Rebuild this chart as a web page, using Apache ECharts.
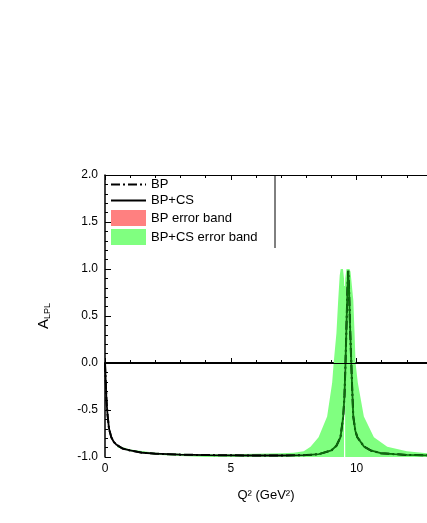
<!DOCTYPE html>
<html>
<head>
<meta charset="utf-8">
<script src="https://cdn.jsdelivr.net/npm/echarts@6/dist/echarts.min.js"></script>
<style>
  html, body { margin: 0; padding: 0; background: #fff; }
  #chart { width: 427px; height: 523px; }
</style>
</head>
<body>
<div id="chart"></div>
<script>
// BP+CS curve (solid) and BP curve (dash-dot)
const curveQ = [0, 0.03, 0.06, 0.1, 0.16, 0.25, 0.35, 0.46, 0.7, 1.0, 1.5, 2.0, 3.0, 4.0, 5.0, 6.0, 7.0, 8.0, 8.5, 9.0, 9.2, 9.36, 9.47, 9.52, 9.56, 9.6, 9.64, 9.67, 9.7, 9.74, 9.79, 9.83, 9.87, 9.95, 10.03, 10.3, 10.56, 10.96, 11.5, 12.0, 12.8]
const bpcsA = [0, -0.2, -0.4, -0.55, -0.7, -0.79, -0.84, -0.87, -0.91, -0.93, -0.955, -0.965, -0.975, -0.979, -0.982, -0.984, -0.984, -0.98, -0.97, -0.93, -0.88, -0.79, -0.57, -0.35, 0.0, 0.4, 0.8, 0.98, 0.8, 0.4, 0.0, -0.3, -0.57, -0.72, -0.79, -0.89, -0.93, -0.96, -0.97, -0.978, -0.982]
const bpA = [0, -0.2, -0.4, -0.55, -0.7, -0.79, -0.84, -0.87, -0.91, -0.93, -0.955, -0.965, -0.975, -0.979, -0.982, -0.984, -0.984, -0.98, -0.97, -0.93, -0.88, -0.79, -0.57, -0.35, 0.0, 0.4, 0.8, 0.98, 0.8, 0.4, 0.0, -0.3, -0.57, -0.72, -0.79, -0.89, -0.93, -0.96, -0.97, -0.978, -0.982]

// BP+CS error band
const bandQ = [0.5, 1, 2, 3, 4, 5, 6, 7, 7.5, 7.9, 8.17, 8.49, 8.83, 9.03, 9.09, 9.2, 9.27, 9.33, 9.37, 9.46, 9.5, 9.51, 9.54, 9.55, 9.6, 9.72, 9.76, 9.87, 9.92, 9.96, 10.05, 10.29, 10.69, 11.22, 12.0, 12.8]
const bandHigh = [-0.88, -0.92, -0.955, -0.965, -0.97, -0.97, -0.965, -0.96, -0.955, -0.94, -0.89, -0.79, -0.57, -0.21, 0.0, 0.32, 0.67, 0.93, 1.0, 1.0, 0.9, 0.82, 0.82, 0.9, 1.0, 1.0, 0.97, 0.67, 0.32, 0.0, -0.21, -0.57, -0.79, -0.89, -0.94, -0.96]
const bandLow = [-0.9, -0.94, -0.975, -0.99, -1, -1, -1, -1, -1, -1, -1, -1, -1, -1, -1, -1, -1, -1, -1, -1, -1, -0.05, -0.05, -1, -1, -1, -1, -1, -1, -1, -1, -1, -1, -1, -1, -1]

// BP error band (hidden under the green one)
const bpBandQ = [9.6, 9.64, 9.67, 9.7, 9.74]
const bpBandHigh = [0.45, 0.85, 1.0, 0.85, 0.45]
const bpBandLow = [0.35, 0.75, 0.95, 0.75, 0.35]

const xTicks = { min: 0, max: 12.8, interval: 5 }
const yTicks = { min: -1, max: 2, interval: 0.5 }

const chart = echarts.init(document.getElementById('chart'))

const bandSeries = (name, q, low, high, color) => ({
  name,
  type: 'custom',
  data: q.map((v, i) => [v, low[i], high[i]]),
  encode: { x: 0, y: [1, 2] },
  itemStyle: { color },
  silent: true,
  renderItem: (params, api) => {
    if (params.dataIndex !== 0) return null
    const pts = []
    for (let i = 0; i < q.length; i++) pts.push(api.coord([q[i], high[i]]))
    for (let i = q.length - 1; i >= 0; i--) pts.push(api.coord([q[i], low[i]]))
    return { type: 'polygon', shape: { points: pts }, style: { fill: color } }
  }
})

// black near the origin, dark green where the curve runs over the band
const lineGrad = new echarts.graphic.LinearGradient(0, 0, 1, 0, [
  { offset: 0, color: '#000' },
  { offset: 0.55, color: '#000' },
  { offset: 0.66, color: '#0b6e0b' },
  { offset: 1, color: '#0b6e0b' }
])

const font = 'Liberation Sans, Arial, sans-serif'

const option = {
  animation: false,
  textStyle: { fontFamily: font },
  grid: { left: 105, right: 0, top: 175, bottom: 66 },
  legend: {
    orient: 'vertical',
    left: 110,
    top: 178,
    padding: 0,
    itemWidth: 35,
    itemHeight: 16,
    itemGap: 3,
    textStyle: { color: '#000', fontSize: 13, fontFamily: font },
    data: [
      { name: 'BP', itemStyle: { opacity: 0 }, lineStyle: { color: '#000', width: 2 } },
      { name: 'BP+CS', itemStyle: { opacity: 0 }, lineStyle: { color: '#000', width: 2 } },
      { name: 'BP error band', icon: 'rect' },
      { name: 'BP+CS error band', icon: 'rect' }
    ]
  },
  xAxis: [
    {
      type: 'value',
      ...xTicks,
      name: 'Q² (GeV²)',
      nameLocation: 'middle',
      nameGap: 32,
      nameTextStyle: { color: '#000', fontSize: 13, fontFamily: font },
      axisLine: { lineStyle: { color: '#000', width: 2 } },
      axisTick: { inside: true, length: 5, lineStyle: { color: '#000' } },
      minorTick: { show: true, splitNumber: 5, length: 3, lineStyle: { color: '#000' } },
      axisLabel: { color: '#000', fontSize: 12, margin: 6, showMaxLabel: false },
      splitLine: { show: false }
    },
    {
      type: 'value',
      position: 'top',
      ...xTicks,
      axisLine: { lineStyle: { color: '#000', width: 1 } },
      axisTick: { inside: true, length: 5, lineStyle: { color: '#000' } },
      minorTick: { show: true, splitNumber: 5, length: 3, lineStyle: { color: '#000' } },
      axisLabel: { show: false },
      splitLine: { show: false }
    }
  ],
  yAxis: {
    type: 'value',
    ...yTicks,
    name: '{a|A}{s|LPL}',
    nameLocation: 'middle',
    nameGap: 51,
    nameTextStyle: {
      rich: {
        a: { fontSize: 15, color: '#000', fontFamily: font, lineHeight: 20 },
        s: { fontSize: 9, color: '#000', fontFamily: font, padding: [8, 0, 0, 0], lineHeight: 20 }
      }
    },
    axisLine: { lineStyle: { color: '#000', width: 1.5 } },
    axisTick: { inside: true, length: 6, lineStyle: { color: '#000' } },
    minorTick: { show: true, splitNumber: 5, length: 3, lineStyle: { color: '#000' } },
    axisLabel: { color: '#000', fontSize: 12, margin: 7, formatter: v => v.toFixed(1) },
    splitLine: { show: false }
  },
  graphic: [
    { type: 'line', shape: { x1: 275, y1: 175, x2: 275, y2: 248 }, style: { stroke: '#000', lineWidth: 1 } }
  ],
  series: [
    bandSeries('BP error band', bpBandQ, bpBandLow, bpBandHigh, '#ff8080'),
    bandSeries('BP+CS error band', bandQ, bandLow, bandHigh, '#80ff80'),
    {
      name: 'BP',
      type: 'line',
      data: curveQ.map((q, i) => [q, bpA[i]]),
      showSymbol: false,
      symbol: 'none',
      itemStyle: { color: '#000' },
      lineStyle: { color: '#000', width: 2, type: [9, 3, 2, 3] }
    },
    {
      name: 'BP+CS',
      type: 'line',
      data: curveQ.map((q, i) => [q, bpcsA[i]]),
      showSymbol: false,
      symbol: 'none',
      itemStyle: { color: '#000' },
      lineStyle: { color: lineGrad, width: 1.8 },
      markLine: {
        silent: true,
        symbol: 'none',
        label: { show: false },
        lineStyle: { color: '#000', width: 1, type: 'solid' },
        data: [{ yAxis: 0 }]
      }
    }
  ]
}

chart.setOption(option)
</script>
</body>
</html>
